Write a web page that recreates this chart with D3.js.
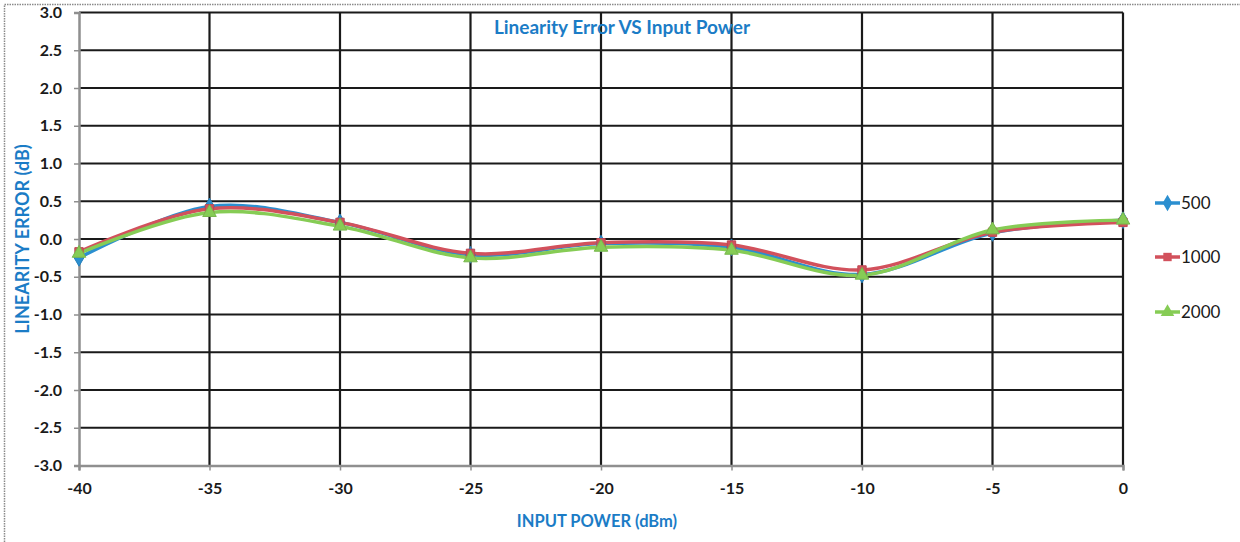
<!DOCTYPE html>
<html><head><meta charset="utf-8">
<script src="https://cdn.jsdelivr.net/npm/d3@7"></script>
<style>body{margin:0;background:#fff}svg{display:block}</style>
</head><body><svg id="c" width="1240" height="542"></svg>
<script>
const inputPower = [-40, -35, -30, -25, -20, -15, -10, -5, 0];
const s500  = [-0.25, 0.43, 0.22, -0.21, -0.06, -0.11, -0.47, 0.08, 0.25];
const s1000 = [-0.17, 0.40, 0.22, -0.19, -0.05, -0.08, -0.41, 0.09, 0.22];
const s2000 = [-0.19, 0.35, 0.17, -0.25, -0.11, -0.15, -0.48, 0.12, 0.25];
const seriesNames = ["500", "1000", "2000"];
const yTicks = [3.0, 2.5, 2.0, 1.5, 1.0, 0.5, 0.0, -0.5, -1.0, -1.5, -2.0, -2.5, -3.0];
const xTicks = [-40, -35, -30, -25, -20, -15, -10, -5, 0];

const svg = d3.select("#c");
const font = "Lato, 'Open Sans', sans-serif";
const L = 79, R = 1123, T = 12.5, B = 465.5;
const x = d3.scaleLinear().domain([-40, 0]).range([L, R]);
const y = d3.scaleLinear().domain([-3, 3]).range([B, T]);

// outer frame
svg.append("path").attr("d", `M4.5,542 V4.5 H1240`).attr("fill", "none")
  .attr("stroke", "#8a8a8a").attr("stroke-width", 1.5).attr("stroke-dasharray", "1.5,1");

// grid
const g = svg.append("g");
g.selectAll("line.h").data(yTicks.filter(d => d > -3)).enter().append("line")
  .attr("x1", L).attr("x2", R).attr("y1", d => y(d)).attr("y2", d => y(d))
  .attr("stroke", "#1a1a1a").attr("stroke-width", 2.2);
g.selectAll("line.v").data(xTicks.filter(d => d > -40)).enter().append("line")
  .attr("y1", T).attr("y2", B).attr("x1", d => x(d)).attr("x2", d => x(d))
  .attr("stroke", "#1a1a1a").attr("stroke-width", 2.2);

// axes
const hy = v => v.toFixed(1).replace("\u2212", "-");
const yAxis = d3.axisLeft(y).tickValues(yTicks).tickFormat(hy).tickSize(5).tickPadding(10);
const ya = svg.append("g").attr("transform", `translate(${L},0)`).call(yAxis);
const xAxis = d3.axisBottom(x).tickValues(xTicks).tickFormat(v => String(v)).tickSize(5).tickPadding(10);
const xa = svg.append("g").attr("transform", `translate(0,${B})`).call(xAxis);
[ya, xa].forEach(a => {
  a.select(".domain").attr("stroke", "#8f8f8f").attr("stroke-width", 2.5);
  a.selectAll(".tick line").attr("stroke", "#8f8f8f").attr("stroke-width", 1.5);
  a.selectAll("text").attr("font-family", font).attr("font-weight", "bold")
    .attr("font-size", 16).attr("fill", "#1a1a1a");
});
ya.selectAll("text").attr("dx", -2);
xa.selectAll("text").attr("dy", "0.85em");

// series
const colors = ["#2b8fd0", "#d2515c", "#86cc55"];
const data = [s500, s1000, s2000];
const line = d3.line().x((d, i) => x(inputPower[i])).y(d => y(d)).curve(d3.curveCatmullRom.alpha(0.5));
const sym = [d3.symbolDiamond, d3.symbolSquare, d3.symbolTriangle];
data.forEach((s, k) => {
  svg.append("path").datum(s).attr("d", line).attr("fill", "none")
    .attr("stroke", colors[k]).attr("stroke-width", 3.5);
});
data.forEach((s, k) => {
  svg.append("g").selectAll("path").data(s).enter().append("path")
    .attr("transform", (d, i) => `translate(${x(inputPower[i])},${y(d)})`)
    .attr("d", d3.symbol().type(sym[k]).size(k === 1 ? 70 : 80))
    .attr("fill", colors[k]).attr("stroke", d3.color(colors[k]).darker(0.3)).attr("stroke-width", 1);
});

// legend
const ly = [203, 257, 312];
seriesNames.forEach((n, k) => {
  const lg = svg.append("g");
  lg.append("line").attr("x1", 1155).attr("x2", 1180).attr("y1", ly[k]).attr("y2", ly[k])
    .attr("stroke", colors[k]).attr("stroke-width", 3.5);
  lg.append("path").attr("transform", `translate(1167.5,${ly[k]})`)
    .attr("d", d3.symbol().type(sym[k]).size(k === 1 ? 70 : 80)).attr("fill", colors[k]);
  lg.append("text").attr("x", 1181).attr("y", ly[k]).attr("dy", "0.35em")
    .attr("font-family", font).attr("font-size", 17).attr("fill", "#1a1a1a").text(n);
});

// titles
svg.append("text").attr("x", 622).attr("y", 27).attr("dy", "0.35em").attr("text-anchor", "middle")
  .attr("font-family", font).attr("font-weight", "bold").attr("font-size", 19).attr("fill", "#1b7cc6")
  .text("Linearity Error VS Input Power");
svg.append("text").attr("transform", "translate(23,239) rotate(-90)").attr("dy", "0.35em")
  .attr("text-anchor", "middle").attr("font-family", font).attr("font-weight", "bold")
  .attr("font-size", 18).attr("fill", "#1b7cc6").text("LINEARITY ERROR (dB)");
svg.append("text").attr("x", 597).attr("y", 521).attr("dy", "0.35em").attr("text-anchor", "middle")
  .attr("font-family", font).attr("font-weight", "bold").attr("font-size", 16.5).attr("fill", "#1b7cc6")
  .text("INPUT POWER (dBm)");
</script></body></html>
